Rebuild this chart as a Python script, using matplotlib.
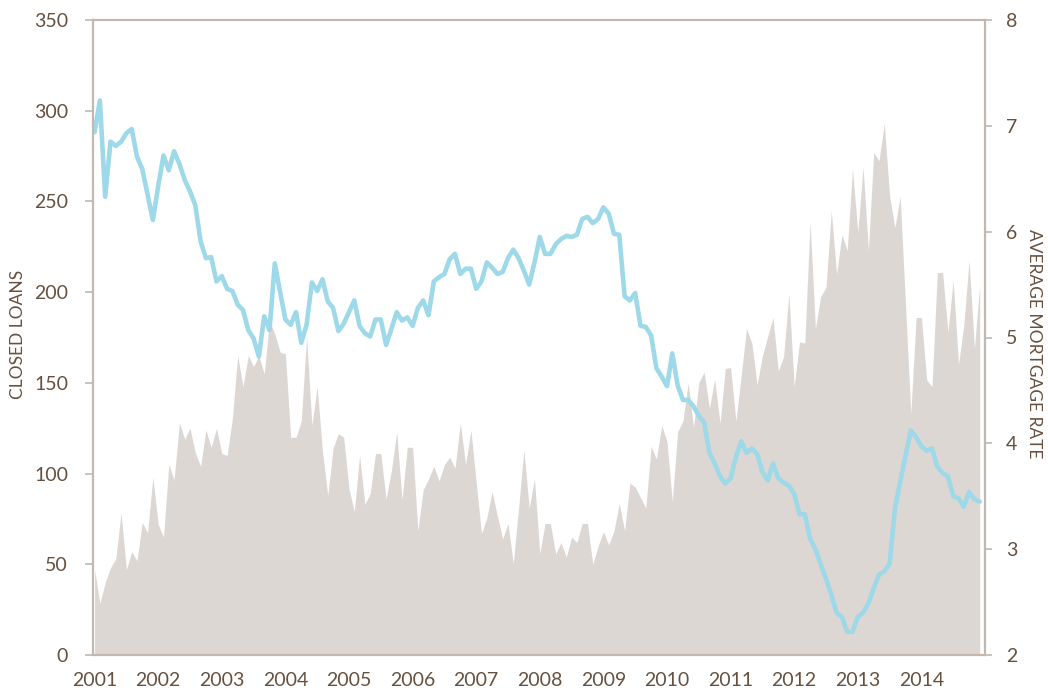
import numpy as np
import matplotlib
matplotlib.use("Agg")
import matplotlib.pyplot as plt

# Monthly data, Jan 2001 - Dec 2014
closed_loans = [
    47, 28.5, 40, 48, 53, 78.5, 47, 57, 52, 73, 67.5, 98,
    72, 65, 105, 96.5, 128, 119, 125, 111.5, 104, 124, 114.5, 125,
    111, 110, 130.5, 165, 148, 165, 159, 165, 155, 184, 177, 167,
    166, 120, 120, 129, 175.5, 126.6, 148, 112, 88, 114, 122, 120,
    91.6, 79, 110, 83, 89, 111, 111, 86, 101.6, 123, 85.7, 114.5,
    114.5, 68.6, 91, 97, 104, 96, 105, 109, 103, 128, 105, 124,
    95, 67, 75.5, 90, 76.6, 64, 72.5, 50.5, 81, 113, 81, 97,
    56, 72.5, 72.5, 55.7, 62, 54, 65, 62, 72.5, 72.5, 50, 60,
    68, 60.7, 68.6, 83.4, 68.6, 94.8, 92.5, 86.8, 81, 115, 108, 126.6,
    117.5, 84.5, 123, 129, 150, 125.5, 150, 156, 136, 152, 127.7, 158,
    158.4, 129, 154, 180, 172, 149, 165, 175.5, 186, 156.6, 164.5, 199,
    148, 172.5, 172, 239, 180, 197.5, 202.7, 244.8, 210, 231.6, 223, 268,
    233, 269, 223, 277, 272.5, 293, 253, 235.7, 252.7, 193, 133, 186,
    186, 151.6, 148, 210.7, 211, 178, 206.6, 160, 182, 217.5, 169, 204,
]

mortgage_rate = [
    6.94, 7.24, 6.33, 6.85, 6.81, 6.85, 6.93, 6.97, 6.71, 6.59, 6.35, 6.11,
    6.43, 6.72, 6.58, 6.76, 6.64, 6.49, 6.38, 6.25, 5.91, 5.75, 5.76, 5.53,
    5.58, 5.46, 5.44, 5.31, 5.26, 5.07, 4.99, 4.82, 5.20, 5.07, 5.70, 5.43,
    5.17, 5.12, 5.24, 4.95, 5.12, 5.52, 5.44, 5.55, 5.34, 5.28, 5.06, 5.13,
    5.24, 5.35, 5.11, 5.04, 5.01, 5.17, 5.17, 4.93, 5.08, 5.24, 5.16, 5.19,
    5.11, 5.28, 5.35, 5.21, 5.53, 5.57, 5.60, 5.74, 5.79, 5.60, 5.65, 5.65,
    5.46, 5.53, 5.71, 5.66, 5.60, 5.62, 5.75, 5.83, 5.75, 5.63, 5.50, 5.71,
    5.95, 5.79, 5.79, 5.88, 5.93, 5.96, 5.95, 5.97, 6.12, 6.14, 6.08, 6.12,
    6.23, 6.17, 5.98, 5.97, 5.39, 5.35, 5.42, 5.11, 5.10, 5.02, 4.71, 4.63,
    4.54, 4.85, 4.55, 4.41, 4.41, 4.35, 4.26, 4.20, 3.91, 3.81, 3.69, 3.62,
    3.67, 3.87, 4.02, 3.91, 3.95, 3.90, 3.73, 3.65, 3.81, 3.67, 3.63, 3.60,
    3.52, 3.33, 3.33, 3.10, 3.00, 2.86, 2.72, 2.57, 2.40, 2.36, 2.22, 2.22,
    2.36, 2.40, 2.49, 2.63, 2.76, 2.79, 2.86, 3.38, 3.64, 3.88, 4.12, 4.06,
    3.97, 3.93, 3.95, 3.78, 3.72, 3.69, 3.50, 3.48, 3.40, 3.54, 3.47, 3.45,
]

year_labels = [str(y) for y in range(2001, 2015)]
left_ticks = [0, 50, 100, 150, 200, 250, 300, 350]
right_ticks = [2, 3, 4, 5, 6, 7, 8]

TEXT = "#66503F"
SPINE = "#C2B8AF"
AREA = "#DCD7D3"
LINE = "#9DD9E8"
FONT = "Lato"

plt.rcParams["font.family"] = [FONT, "DejaVu Sans"]

x = 2001 + np.arange(len(closed_loans)) / 12.0

fig = plt.figure(figsize=(10.48, 6.93), dpi=100)
ax = fig.add_axes([93 / 1048, 38 / 693, (985 - 93) / 1048, (655 - 20) / 693])
ax.fill_between(x, 0, closed_loans, color=AREA, linewidth=0)
ax.set_xlim(2001 - 0.3 / 12, 2015)
ax.set_ylim(0, 350)
ax.set_yticks(left_ticks)
ax.set_xticks([int(y) for y in year_labels])
ax.set_xticklabels(year_labels)

ax2 = ax.twinx()
ax2.plot(x, mortgage_rate, color=LINE, linewidth=3.3,
         solid_joinstyle="round", solid_capstyle="round")
ax2.set_ylim(2, 8)
ax2.set_yticks(right_ticks)
ax2.set_xlim(ax.get_xlim())

for a in (ax, ax2):
    for s in a.spines.values():
        s.set_color(SPINE)
        s.set_linewidth(1.5)

ax.tick_params(axis="x", length=0, pad=12, labelsize=14, labelcolor=TEXT)
ax.tick_params(axis="y", length=6, width=1.2, color=SPINE, pad=12,
               labelsize=14, labelcolor=TEXT)
ax2.tick_params(axis="y", length=5, width=1.2, color=SPINE, pad=10,
                labelsize=14, labelcolor=TEXT)

ax.set_ylabel("CLOSED LOANS", fontsize=12.5, color=TEXT, va="center")
ax.yaxis.set_label_coords((18 - 93) / 892, 0.505)
ax2.set_ylabel("AVERAGE MORTGAGE RATE", fontsize=12.5, color=TEXT,
               rotation=270, va="center")
ax2.yaxis.set_label_coords((1034 - 93) / 892, 0.49)

fig.savefig("out.png", dpi=100)
